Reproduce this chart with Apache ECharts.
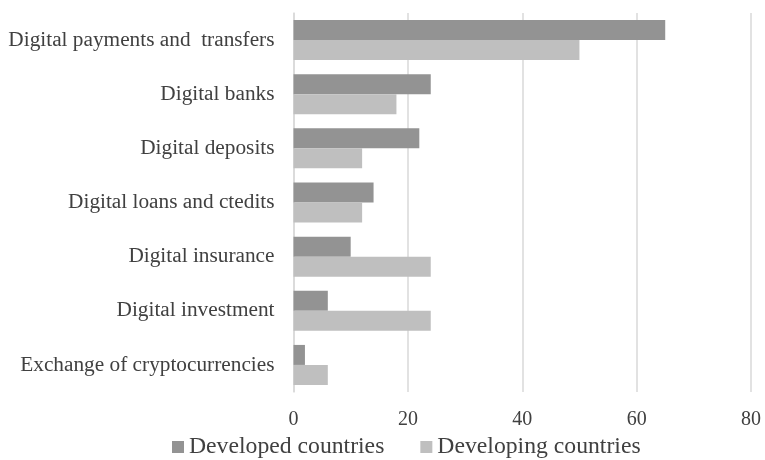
<!DOCTYPE html>
<html>
<head>
<meta charset="utf-8">
<script src="https://cdn.jsdelivr.net/npm/echarts@6/dist/echarts.min.js"></script>
<style>
  html, body { margin: 0; padding: 0; background: #ffffff; }
  #chart { width: 765px; height: 460px; }
</style>
</head>
<body>
<div id="chart"></div>
<script>
// Categories of digital financial services (top to bottom)
const categories = [
  'Digital payments and  transfers',
  'Digital banks',
  'Digital deposits',
  'Digital loans and ctedits',
  'Digital insurance',
  'Digital investment',
  'Exchange of cryptocurrencies'
];
const developed = [65, 24, 22, 14, 10, 6, 2];
const developing = [50, 18, 12, 12, 24, 24, 6];
const xTicks = { min: 0, max: 80, interval: 20 };

const FONT = '"Liberation Serif", "Times New Roman", serif';
const TEXT = '#404040';

const chart = echarts.init(document.getElementById('chart'), null, { renderer: 'canvas' });
chart.setOption({
  animation: false,
  backgroundColor: '#ffffff',
  grid: { left: 293.5, right: 14, top: 13, bottom: 68 },
  legend: {
    data: ['Developed countries', 'Developing countries'],
    left: 167,
    top: 430,
    itemWidth: 12,
    itemHeight: 12,
    itemGap: 36,
    icon: 'rect',
    textStyle: { fontFamily: FONT, fontSize: 23.7, color: TEXT, padding: [0, 0, 0, 0] }
  },
  xAxis: {
    type: 'value',
    min: xTicks.min,
    max: xTicks.max,
    interval: xTicks.interval,
    axisLine: { show: false },
    axisTick: { show: false },
    splitLine: { show: true, lineStyle: { color: '#d9d9d9', width: 1.5 } },
    axisLabel: { fontFamily: FONT, fontSize: 20, color: TEXT, margin: 18 }
  },
  yAxis: {
    type: 'category',
    data: categories,
    inverse: true,
    axisLine: { show: true, lineStyle: { color: '#d9d9d9', width: 1.5 } },
    axisTick: { show: false },
    axisLabel: { fontFamily: FONT, fontSize: 21.3, color: TEXT, margin: 19 }
  },
  series: [
    {
      name: 'Developed countries',
      type: 'bar',
      data: developed,
      barWidth: 20,
      barGap: '0%',
      itemStyle: { color: '#939393' }
    },
    {
      name: 'Developing countries',
      type: 'bar',
      data: developing,
      barWidth: 20,
      barGap: '0%',
      itemStyle: { color: '#bfbfbf' }
    }
  ]
});
</script>
</body>
</html>
